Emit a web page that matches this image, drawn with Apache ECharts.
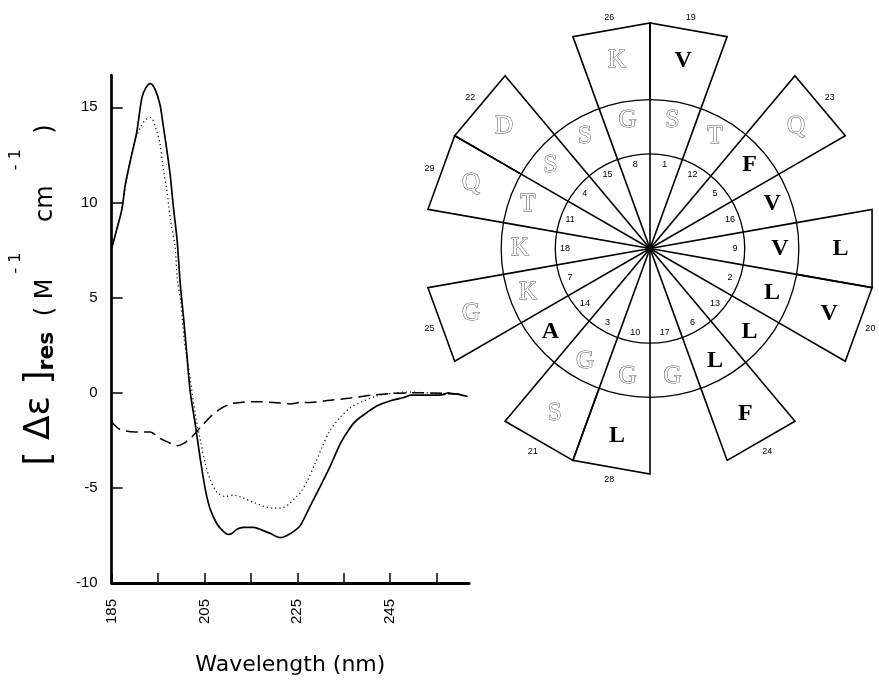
<!DOCTYPE html>
<html>
<head>
<meta charset="utf-8">
<script src="https://cdn.jsdelivr.net/npm/echarts@6/dist/echarts.min.js"></script>
<style>html,body{margin:0;background:#fff}#chart{width:879px;height:681px}</style>
</head>
<body>
<div id="chart"></div>
<script>
// CD spectra: wavelength (nm) and residue ellipticity
var solidNm  = [185.0,186.0,187.2,187.9,189.3,190.4,191.5,192.3,193.3,194.35,195.4,196.1,196.8,197.6,198.3,199.1,199.75,200.5,201.2,201.9,203.0,204.1,205.15,206.2,207.7,209.1,210.2,210.9,212.0,213.4,215.6,217.4,219.2,221.35,222.8,224.6,225.7,227.8,230.0,232.1,234.3,236.5,237.9,240.1,242.25,245.1,248.0,249.5,253.75,256.5,257.5,258.5,259.5,261.7];
var solidVal = [7.6,8.5,9.65,10.9,12.5,13.7,15.5,16.0,16.25,15.95,15.15,14.05,12.9,11.45,9.75,8.0,5.8,3.9,2.0,0.1,-1.65,-3.5,-5.05,-6.1,-6.9,-7.3,-7.45,-7.4,-7.17,-7.08,-7.08,-7.22,-7.4,-7.62,-7.5,-7.22,-6.96,-5.95,-4.9,-3.86,-2.66,-1.8,-1.42,-1.02,-0.68,-0.42,-0.25,-0.13,-0.13,-0.1,0.0,-0.05,-0.07,-0.2];

var dotNm  = [185.0,186.0,187.2,188.0,188.95,189.9,191.3,192.3,193.4,194.55,195.4,196.1,196.9,197.7,198.65,199.15,199.9,200.6,201.9,203.0,204.1,205.15,206.2,207.7,209.5,211.3,213.4,215.6,217.8,219.9,221.75,223.2,225.0,225.7,227.1,228.9,230.4,232.1,234.3,236.5,239.4,242.25,245.1,248.7,252.3,255.9,259.5,261.5];
var dotVal = [7.6,8.5,9.65,10.9,12.15,13.2,14.0,14.35,14.47,13.87,13.1,11.8,10.6,9.05,7.67,5.95,4.75,2.85,0.78,-1.1,-2.5,-3.7,-4.55,-5.24,-5.45,-5.38,-5.54,-5.76,-5.97,-6.07,-6.05,-5.85,-5.41,-5.24,-4.65,-3.69,-2.83,-1.97,-1.28,-0.77,-0.42,-0.16,-0.04,0.04,0.0,-0.04,-0.07,-0.18];

var dashNm  = [185.0,185.35,186.7,190.0,193.3,195.4,196.9,199.1,200.5,202.3,204.1,206.2,208.4,210.6,212.7,216.3,219.9,223.5,225.7,227.8,232.1,236.5,240.8,245.1,248.7,252.0,256.0,260.0];
var dashVal = [-1.5,-1.63,-1.92,-2.06,-2.07,-2.4,-2.57,-2.78,-2.66,-2.31,-1.83,-1.28,-0.85,-0.59,-0.51,-0.47,-0.51,-0.59,-0.51,-0.51,-0.39,-0.28,-0.13,-0.04,-0.01,0.0,-0.03,-0.08];

var tickNm  = [185,195,205,215,225,235,245,255];
var labelNm = [185,205,225,245];
var tickVal = [-5,0,5,10,15];
var labelVal = [-10,-5,0,5,10,15];

// helical wheel: residues 1..29, 100 degrees per residue
var residueNo = [1,2,3,4,5,6,7,8,9,10,11,12,13,14,15,16,17,18,19,20,21,22,23,24,25,26,27,28,29];
var sequence  = ['S','L','G','S','F','L','K','G','V','G','T','T','L','A','S','V','G','K','V','V','S','D','Q','F','G','K','L','L','Q'];
var hydrophobic = ['A','V','L','F'];
var firstAngle = 10, turn = 100;
var rings = [42, 66];

function pairs(xs, ys) {
    return xs.map(function (x, i) { return [x, ys[i]]; });
}

var R_MID = 66, R_OUT = 100;

function renderResidue(params, api) {
    var n = api.value(0);
    var aa = sequence[n - 1];
    var ang = (firstAngle + turn * (n - 1)) % 360;
    var cs = params.coordSys;
    var kids = [];
    var line = {stroke: '#000', lineWidth: 1.6, fill: null};
    var letterR, numR;
    if (n <= 18) {
        var e = api.coord([R_MID, ang - 10]);
        kids.push({type: 'line', shape: {x1: cs.cx, y1: cs.cy, x2: e[0], y2: e[1]}, style: line});
        letterR = 57.6; numR = 37.7;
    } else {
        var a = api.coord([R_MID, ang - 10]), b = api.coord([R_OUT, ang - 10]),
            c = api.coord([R_OUT, ang + 10]), d = api.coord([R_MID, ang + 10]);
        kids.push({type: 'polyline', shape: {points: [a, b, c, d]}, style: line});
        letterR = 84.5; numR = 104;
    }
    var np = api.coord([numR, ang]);
    kids.push({type: 'text', style: {text: String(n), x: np[0], y: np[1], align: 'center', verticalAlign: 'middle',
        font: '9px "Liberation Sans"', fill: '#000'}});
    var lp = api.coord([letterR, ang]);
    var bold = hydrophobic.indexOf(aa) >= 0;
    kids.push({type: 'text', z2: 10, style: bold ?
        {text: aa, x: lp[0], y: lp[1], align: 'center', verticalAlign: 'middle', font: 'bold 24px "Liberation Serif"', fill: '#000'} :
        {text: aa, x: lp[0], y: lp[1], align: 'center', verticalAlign: 'middle', font: '25px "Liberation Serif"', fill: '#fff', stroke: '#555', lineWidth: 1}});
    return {type: 'group', children: kids};
}

function renderRing(params, api) {
    var cs = params.coordSys;
    var p = api.coord([api.value(0), 90]);
    var r = Math.abs(p[0] - cs.cx);
    var kids = [{type: 'circle', shape: {cx: cs.cx, cy: cs.cy, r: r}, style: {stroke: '#000', lineWidth: 1.3, fill: null}}];
    if (params.dataIndex === 0) {
        kids.push({type: 'circle', z2: 5, shape: {cx: cs.cx, cy: cs.cy, r: 3}, style: {fill: '#000'}});
    }
    return {type: 'group', children: kids};
}

var chart = echarts.init(document.getElementById('chart'));
chart.setOption({
    backgroundColor: '#fff',
    animation: false,
    grid: {left: 111.7, top: 75, right: 410, bottom: 88.7},
    xAxis: {
        type: 'value', min: 185, max: 262,
        axisLine: {onZero: false, lineStyle: {color: '#000', width: 3}},
        axisTick: {inside: true, length: 10, customValues: tickNm, lineStyle: {color: '#000', width: 1.5}},
        axisLabel: {customValues: labelNm, rotate: 90, margin: 16, fontSize: 15, fontFamily: 'Liberation Sans', color: '#000'},
        splitLine: {show: false},
        name: 'Wavelength (nm)', nameLocation: 'middle', nameGap: 71,
        nameTextStyle: {fontSize: 22, fontFamily: 'DejaVu Sans', color: '#000'}
    },
    yAxis: {
        type: 'value', min: -10, max: 16.7,
        axisLine: {onZero: false, lineStyle: {color: '#000', width: 2.7}},
        axisTick: {inside: true, length: 11, customValues: tickVal, lineStyle: {color: '#000', width: 1.5}},
        axisLabel: {customValues: labelVal, margin: 14, fontSize: 15, fontFamily: 'Liberation Sans', color: '#000'},
        splitLine: {show: false}
    },
    polar: {center: [650, 248.5], radius: 225.5},
    angleAxis: {type: 'value', min: 0, max: 360, startAngle: 90, clockwise: true, show: false},
    radiusAxis: {type: 'value', min: 0, max: 100, show: false},
    graphic: [{
        type: 'text', x: 33, y: 295, rotation: Math.PI / 2,
        style: {
            text: '{big|[ Δε ]}{res|res}{mid|  ( M}{sup| - 1}{mid|    cm}{sup|   - 1}{mid|  )}',
            align: 'center', verticalAlign: 'middle', fill: '#000',
            rich: {
                big: {fontSize: 36, fontFamily: 'DejaVu Sans', lineHeight: 50, verticalAlign: 'bottom'},
                res: {fontSize: 22, fontFamily: 'DejaVu Sans', fontWeight: 'bold', lineHeight: 29, verticalAlign: 'bottom'},
                mid: {fontSize: 24, fontFamily: 'DejaVu Sans', lineHeight: 45, verticalAlign: 'bottom'},
                sup: {fontSize: 16, fontFamily: 'DejaVu Sans', lineHeight: 30, verticalAlign: 'top'}
            }
        }
    }],
    series: [
        {type: 'line', data: pairs(solidNm, solidVal), showSymbol: false, smooth: 0.3,
            lineStyle: {color: '#000', width: 1.7}},
        {type: 'line', data: pairs(dotNm, dotVal), showSymbol: false, smooth: 0.3,
            lineStyle: {color: '#000', width: 1.2, type: [1.2, 3]}},
        {type: 'line', data: pairs(dashNm, dashVal), showSymbol: false, smooth: 0.3,
            lineStyle: {color: '#000', width: 1.5, type: [12, 6]}},
        {type: 'custom', coordinateSystem: 'polar', clip: false,
            data: rings.map(function (r) { return [r, 0]; }), renderItem: renderRing},
        {type: 'custom', coordinateSystem: 'polar', clip: false,
            data: residueNo.map(function (n) { return [n, 0]; }), renderItem: renderResidue}
    ]
});
</script>
</body>
</html>
